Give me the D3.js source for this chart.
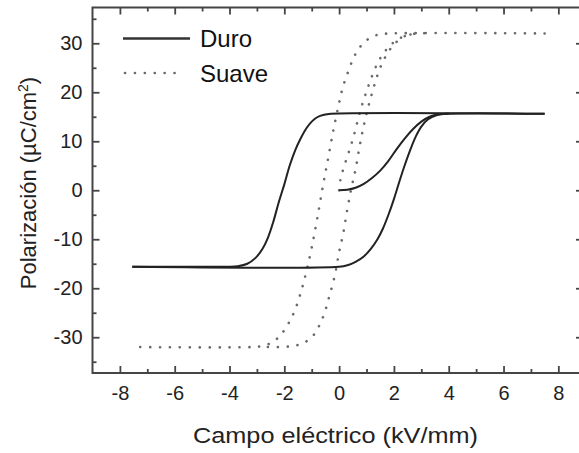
<!DOCTYPE html>
<html>
<head>
<meta charset="utf-8">
<script src="https://cdn.jsdelivr.net/npm/d3@7"></script>
<style>
  body { margin: 0; background: #fff; }
  svg { display: block; font-family: "Liberation Sans", Arial, sans-serif; }
</style>
</head>
<body>
<svg id="chart" width="579" height="453"></svg>
<script>
// ---- data: [campo kV/mm, polarizacion uC/cm2] ----
var duroDown = [[7.5,15.6],[-0.3,15.6],[-0.55,15.4],[-0.8,14.9],[-1.0,14.0],[-1.2,12.6],[-1.4,10.6],
  [-1.6,8.2],[-1.8,5.1],[-2.0,1.2],[-2.2,-2.4],[-2.4,-6.4],[-2.6,-9.7],[-2.8,-12.0],[-3.05,-13.8],
  [-3.35,-15.0],[-3.7,-15.5],[-4.1,-15.6],[-7.55,-15.6]];
var duroUp = [[-7.55,-15.6],[0.0,-15.6],[0.3,-15.3],[0.6,-14.6],[0.9,-13.5],[1.15,-12.0],[1.4,-10.0],
  [1.6,-7.8],[1.8,-5.0],[2.0,-1.8],[2.2,1.8],[2.4,5.2],[2.6,8.3],[2.8,11.0],[3.0,13.0],[3.25,14.5],
  [3.55,15.3],[3.9,15.6],[7.5,15.6]];
var duroInit = [[0,0],[0.3,0.1],[0.6,0.5],[0.9,1.3],[1.2,2.5],[1.5,4.0],[1.8,6.0],[2.1,8.4],[2.4,10.6],
  [2.7,12.5],[3.0,14.0],[3.3,15.0],[3.65,15.5],[4.0,15.6]];

var suaveDown = [[7.5,32],[1.8,32],[1.45,31.8],[1.1,31.0],[0.8,29.5],[0.55,27.3],[0.35,24.5],[0.15,21.3],
  [0,17.8],[-0.2,12.5],[-0.4,6.5],[-0.6,0.6],[-0.8,-5.8],[-1.0,-11.7],[-1.2,-16.7],[-1.4,-20.9],
  [-1.62,-24.6],[-1.85,-27.2],[-2.1,-29.3],[-2.4,-30.9],[-2.8,-31.8],[-3.2,-32],[-7.45,-32]];
var suaveUp = [[-2.6,-32],[-2.1,-32],[-1.7,-31.8],[-1.35,-31.3],[-1.0,-30.0],[-0.75,-27.9],[-0.55,-25.3],
  [-0.35,-21.5],[-0.15,-17.2],[0.0,-12.6],[0.15,-8.8],[0.3,-3.9],[0.45,0.5],[0.6,4.3],[0.75,9.0],
  [0.9,13.2],[1.05,16.7],[1.2,19.8],[1.4,23.5],[1.6,26.3],[1.85,28.7],[2.1,30.3],[2.45,31.6],[2.9,32],[3.4,32]];
var suaveInit = [[0,0],[0.05,2.2],[0.15,4.3],[0.3,6.9],[0.45,9.5],[0.6,12.5],[0.75,15.8],[0.9,18.5],
  [1.05,21.0],[1.2,23.3],[1.4,25.9],[1.6,27.8],[1.85,29.5],[2.1,30.6],[2.45,31.6],[2.9,32]];

var xMajor = [-8,-6,-4,-2,0,2,4,6,8];
var xMinor = [-7,-5,-3,-1,1,3,5,7];
var yMajor = [-30,-20,-10,0,10,20,30];
var yMinor = [-35,-25,-15,-5,5,15,25,35];
var legendNames = ["Duro","Suave"];

var svg = d3.select("#chart");
var axisColor = "#454545";

var x = d3.scaleLinear().domain([-9, 8.9]).range([92.5, 583]);
var y = d3.scaleLinear().domain([-37.3, 37.3]).range([373, 7.5]);

var line = d3.line()
  .x(function(d) { return x(d[0]); })
  .y(function(d) { return y(d[1]); })
  .curve(d3.curveCatmullRom.alpha(0.5));

// curves
function solid(data) {
  svg.append("path").datum(data)
    .attr("d", line)
    .attr("fill", "none")
    .attr("stroke", "#222")
    .attr("stroke-width", 2);
}
function dotted(data) {
  svg.append("path").datum(data)
    .attr("d", line)
    .attr("fill", "none")
    .attr("stroke", "#6a6a6a")
    .attr("stroke-width", 2.6)
    .attr("stroke-linecap", "round")
    .attr("stroke-dasharray", "0.1 9.8");
}
dotted(suaveDown);
dotted(suaveUp);
dotted(suaveInit);
solid(duroDown);
solid(duroUp);
solid(duroInit);

// axes, ticks pointing inward
function styleAxis(g) {
  g.select(".domain").remove();
  g.selectAll(".tick line").attr("stroke", axisColor).attr("stroke-width", 1.8);
  g.selectAll(".tick text").attr("fill", "#222").style("font-size", "20px")
    .style("font-family", '"Liberation Sans", Arial, sans-serif');
}
var fmt = function(d) { return String(d); };

svg.append("g").attr("transform", "translate(0," + y.range()[0] + ")")
  .call(d3.axisBottom(x).tickValues(xMajor).tickFormat(fmt).tickSizeInner(-7).tickSizeOuter(0).tickPadding(13))
  .call(styleAxis);
svg.append("g").attr("transform", "translate(0," + y.range()[0] + ")")
  .call(d3.axisBottom(x).tickValues(xMinor).tickFormat("").tickSizeInner(-4).tickSizeOuter(0))
  .call(styleAxis);
svg.append("g").attr("transform", "translate(0," + y.range()[1] + ")")
  .call(d3.axisTop(x).tickValues(xMajor).tickFormat("").tickSizeInner(-7).tickSizeOuter(0))
  .call(styleAxis);
svg.append("g").attr("transform", "translate(0," + y.range()[1] + ")")
  .call(d3.axisTop(x).tickValues(xMinor).tickFormat("").tickSizeInner(-4).tickSizeOuter(0))
  .call(styleAxis);

svg.append("g").attr("transform", "translate(" + x.range()[0] + ",0)")
  .call(d3.axisLeft(y).tickValues(yMajor).tickFormat(fmt).tickSizeInner(-7).tickSizeOuter(0).tickPadding(10))
  .call(styleAxis);
svg.append("g").attr("transform", "translate(" + x.range()[0] + ",0)")
  .call(d3.axisLeft(y).tickValues(yMinor).tickFormat("").tickSizeInner(-4).tickSizeOuter(0))
  .call(styleAxis);
svg.append("g").attr("transform", "translate(" + x.range()[1] + ",0)")
  .call(d3.axisRight(y).tickValues(yMajor).tickFormat("").tickSizeInner(-7).tickSizeOuter(0))
  .call(styleAxis);
svg.append("g").attr("transform", "translate(" + x.range()[1] + ",0)")
  .call(d3.axisRight(y).tickValues(yMinor).tickFormat("").tickSizeInner(-4).tickSizeOuter(0))
  .call(styleAxis);

// frame
svg.append("rect")
  .attr("x", x.range()[0]).attr("y", y.range()[1])
  .attr("width", x.range()[1] - x.range()[0])
  .attr("height", y.range()[0] - y.range()[1])
  .attr("fill", "none")
  .attr("stroke", axisColor)
  .attr("stroke-width", 2);

// axis titles
svg.append("text")
  .attr("x", 335.5).attr("y", 443)
  .attr("text-anchor", "middle")
  .attr("textLength", 285).attr("lengthAdjust", "spacingAndGlyphs")
  .style("font-size", "22px").attr("fill", "#222")
  .text("Campo eléctrico (kV/mm)");

var yt = svg.append("text")
  .attr("transform", "translate(36,183) rotate(-90)")
  .attr("text-anchor", "middle")
  .style("font-size", "22px").attr("fill", "#222");
yt.append("tspan").text("Polarización (µC/cm");
yt.append("tspan").attr("dy", -8).style("font-size", "14px").text("2");
yt.append("tspan").attr("dy", 8).text(")");

// legend
var legend = svg.append("g");
legend.append("line").attr("x1", 123).attr("x2", 190).attr("y1", 38.5).attr("y2", 38.5)
  .attr("stroke", "#333").attr("stroke-width", 2.4);
legend.append("line").attr("x1", 125).attr("x2", 184).attr("y1", 73).attr("y2", 73)
  .attr("stroke", "#6a6a6a").attr("stroke-width", 2.6)
  .attr("stroke-linecap", "round").attr("stroke-dasharray", "0.1 9.8");
legend.selectAll("text.lg").data(legendNames).enter().append("text")
  .attr("class", "lg")
  .attr("x", 200)
  .attr("y", function(d, i) { return i === 0 ? 47.3 : 81.5; })
  .style("font-size", "24px").attr("fill", "#111")
  .text(function(d) { return d; });
</script>
</body>
</html>
